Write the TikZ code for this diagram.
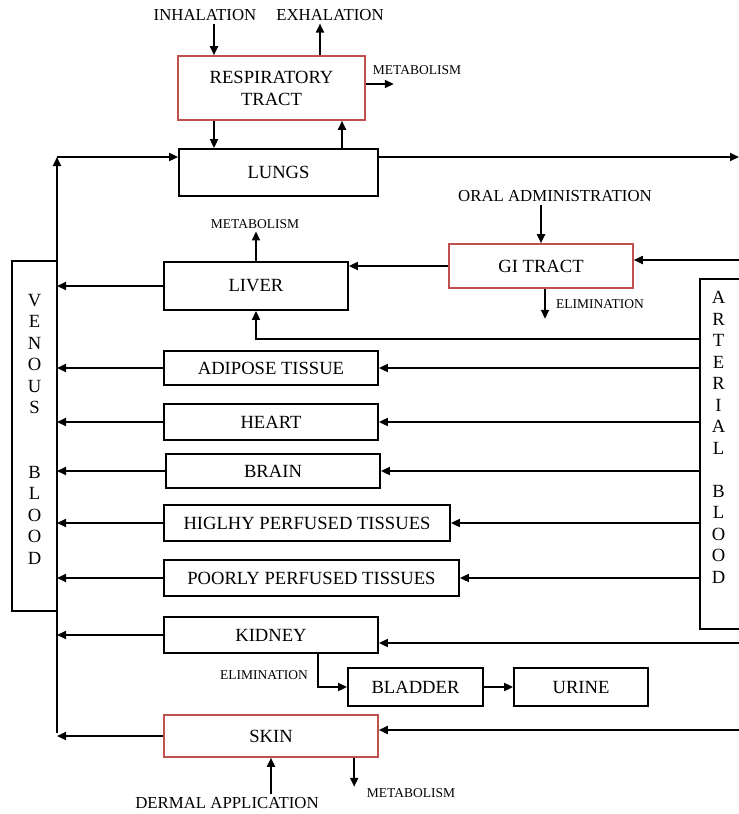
\documentclass[tikz,border=0pt]{standalone}
\usepackage{fontspec}
\setmainfont{Liberation Serif}
\usetikzlibrary{arrows.meta}
\usetikzlibrary{positioning}
\definecolor{tractred}{RGB}{192,80,77}
\tikzset{organ/.style={rectangle,draw=black,line width=1.8pt,inner sep=0pt,
align=center,font=\fontsize{18.6}{22}\selectfont},
tract/.style={organ,draw=tractred,line width=1.6pt},
blood/.style={rectangle,draw=black,line width=1.3pt,inner sep=0pt},
letters/.style={align=center,inner sep=0pt,font=\fontsize{18.6}{21.5}\selectfont},
route/.style={inner sep=2pt,font=\fontsize{16.8}{18}\selectfont},
fate/.style={inner sep=2pt,font=\fontsize{13.5}{15}\selectfont},
>={Triangle[length=9pt,width=8pt]}}

\begin{document}
\begin{tikzpicture}[x=1pt,y=-1pt,line width=1.8pt]
  \useasboundingbox (0,0) rectangle (739,814);
  \clip (0,0) rectangle (739,814);

  \node (resp) [tract,minimum width=187,minimum height=64] at (271.5,88) {RESPIRATORY\\TRACT};
  \node (lungs) [organ,minimum width=199,minimum height=47] at (278.5,172.5) {LUNGS};
  \node (liver) [organ,minimum width=184,minimum height=48] at (256,286) {LIVER};
  \node (gi) [tract,minimum width=184,minimum height=44] at (541,266) {GI TRACT};
  \node (adip) [organ,minimum width=214,minimum height=34] at (271,368) {ADIPOSE TISSUE};
  \node (heart) [organ,minimum width=214,minimum height=36] at (271,422) {HEART};
  \node (brain) [organ,minimum width=214,minimum height=34] at (273,471) {BRAIN};
  \node (hpt) [organ,minimum width=286,minimum height=36] at (307,523) {HIGLHY PERFUSED TISSUES};
  \node (ppt) [organ,minimum width=295,minimum height=36] at (311.5,578) {POORLY PERFUSED TISSUES};
  \node (kidney) [organ,minimum width=214,minimum height=36] at (271,635) {KIDNEY};
  \node (bladder) [organ,minimum width=135,minimum height=38] at (415.5,687) {BLADDER};
  \node (urine) [organ,minimum width=134,minimum height=38] at (581,687) {URINE};
  \node (skin) [tract,minimum width=214,minimum height=42] at (271,736) {SKIN};

  \node (ven) [blood,minimum width=45,minimum height=350] at (34.5,436) {};
  \node [letters,below=33pt of ven.north] {V\\E\\N\\O\\U\\S\\[43pt]B\\L\\O\\O\\D};
  \node (art) [blood,minimum width=80,minimum height=350] at (740,454) {};
  \node [letters,below right=12pt and 11.5pt of art.north west] {A\\R\\T\\E\\R\\I\\A\\L\\[21.5pt]B\\L\\O\\O\\D};

  \node (inh) [route] at (205,15) {INHALATION};
  \node (exh) [route] at (330,15) {EXHALATION};
  \node (met1) [fate] at (417,70) {METABOLISM};
  \node (met2) [fate] at (255,224) {METABOLISM};
  \node (oral) [route] at (555,196) {ORAL ADMINISTRATION};
  \node (elim1) [fate] at (600,304) {ELIMINATION};
  \node (elim2) [fate] at (264,675) {ELIMINATION};
  \node (derm) [route] at (227,803) {DERMAL APPLICATION};
  \node (met3) [fate] at (411,793) {METABOLISM};

  \coordinate (vtop) at (57,157);
  \coordinate (vbot) at (57,733);
  \coordinate (redge) at (739,0);
  \coordinate (rin) at (214,0);
  \coordinate (rout) at (320,0);
  \coordinate (lout) at (342,0);

  \draw [->] (rin |- inh.south) -- (rin |- resp.north);
  \draw [->] (rout |- resp.north) -- (rout |- exh.south);
  \draw [->] ([yshift=4pt]resp.east) -- ++(28,0);
  \draw [->] (rin |- resp.south) -- (rin |- lungs.north);
  \draw [->] (lout |- lungs.north) -- (lout |- resp.south);

  \draw [->] (vbot) -- (vtop);
  \draw [->] (vtop) -- (vtop -| lungs.west);
  \draw [->] (vtop -| lungs.east) -- (vtop -| redge);

  \foreach \o in {liver,adip,heart,brain,hpt,ppt,kidney,skin}
    \draw [->] (\o.west) -- (vtop |- \o.west);
  \foreach \o in {adip,heart,brain,hpt,ppt}
    \draw [->] (art.west |- \o.east) -- (\o.east);

  \draw [->] ([yshift=6pt]gi.east -| redge) -- ([yshift=6pt]gi.east);
  \draw [->] ([yshift=-8pt]kidney.east -| redge) -- ([yshift=-8pt]kidney.east);
  \draw [->] ([yshift=6pt]skin.east -| redge) -- ([yshift=6pt]skin.east);

  \draw [->] (gi.west) -- (gi.west -| liver.east);
  \draw [->] (gi.north |- oral.south) -- (gi.north);
  \draw [->] ([xshift=4pt]gi.south) -- ++(0,30);
  \draw [->] (liver.north) -- (liver.north |- met2.south);
  \draw [->] ([yshift=-28pt]liver.south -| art.west) -| (liver.south);

  \draw [->] ([xshift=155pt]kidney.south west) |- (bladder.west);
  \draw [->] (bladder) -- (urine);
  \draw [->] (skin.south |- derm.north) -- (skin.south);
  \draw [->] ([xshift=191pt]skin.south west) -- ++(0,29);
\end{tikzpicture}
\end{document}
